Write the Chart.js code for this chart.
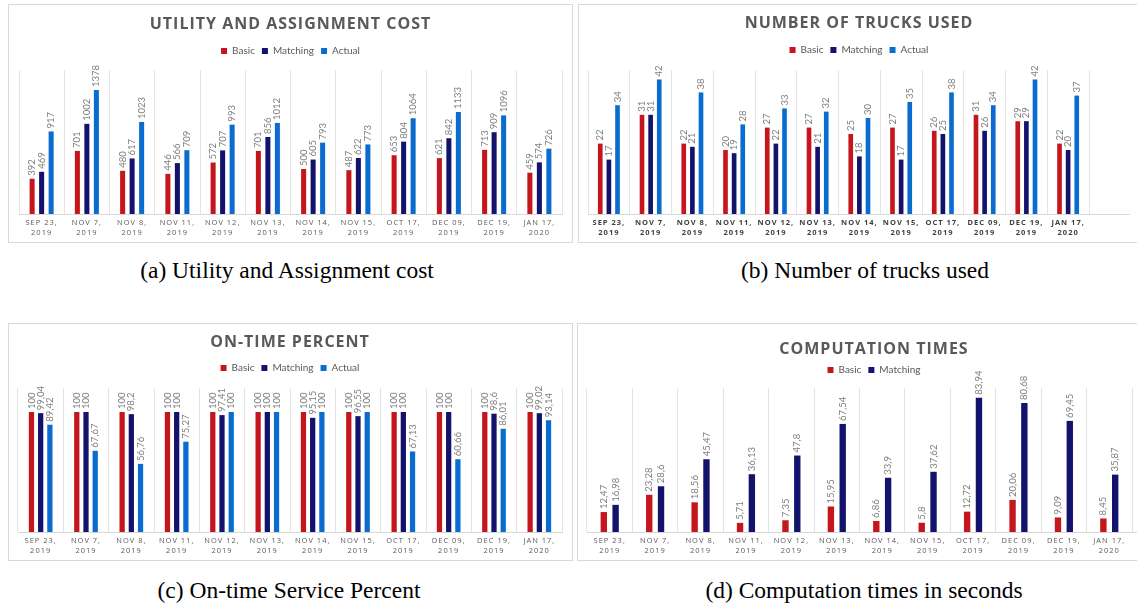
<!DOCTYPE html>
<html>
<head>
<meta charset="utf-8">
<script src="https://cdn.jsdelivr.net/npm/chart.js@4.4.1/dist/chart.umd.min.js"></script>
<style>
  html, body { margin: 0; padding: 0; background: #fff; }
  body { width: 1137px; height: 606px; overflow: hidden; position: relative; }
  .frame { position: absolute; border: 1px solid #d9d9d9; box-sizing: border-box; }
  .box { position: absolute; }
  .caption { position: absolute; width: 500px; text-align: center; font-family: 'Liberation Serif', serif; font-size: 23.5px; line-height: 26px; color: #000; }
</style>
</head>
<body>

<div class="frame" style="left:8px;top:4px;width:565px;height:239px"></div>
<div class="box" style="left:9px;top:5px;width:563px;height:236px"><canvas id="costGraph"></canvas></div>

<div class="frame" style="left:578px;top:4px;width:600px;height:239px"></div>
<div class="box" style="left:579px;top:5px;width:551px;height:236px"><canvas id="trucksGraph"></canvas></div>

<div class="frame" style="left:8px;top:323px;width:565px;height:238px"></div>
<div class="box" style="left:9px;top:324px;width:563px;height:235px"><canvas id="onTimeGraph"></canvas></div>

<div class="frame" style="left:577px;top:323px;width:600px;height:238px"></div>
<div class="box" style="left:578px;top:324px;width:583px;height:235px"><canvas id="compGraph"></canvas></div>

<div class="caption" style="left:37px;top:257px">(a) Utility and Assignment cost</div>
<div class="caption" style="left:615px;top:257px">(b) Number of trucks used</div>
<div class="caption" style="left:39px;top:577px">(c) On-time Service Percent</div>
<div class="caption" style="left:614px;top:577px">(d) Computation times in seconds</div>

<script>
const dates = [
  ['SEP 23,', '2019'], ['NOV 7,', '2019'], ['NOV 8,', '2019'], ['NOV 11,', '2019'],
  ['NOV 12,', '2019'], ['NOV 13,', '2019'], ['NOV 14,', '2019'], ['NOV 15,', '2019'],
  ['OCT 17,', '2019'], ['DEC 09,', '2019'], ['DEC 19,', '2019'], ['JAN 17,', '2020']
];

const costBasic    = [392, 701, 480, 446, 572, 701, 500, 487, 653, 621, 713, 459];
const costMatching = [469, 1002, 617, 566, 707, 856, 605, 622, 804, 842, 909, 574];
const costActual   = [917, 1378, 1023, 709, 993, 1012, 793, 773, 1064, 1133, 1096, 726];

const trucksBasic    = [22, 31, 22, 20, 27, 27, 25, 27, 26, 31, 29, 22];
const trucksMatching = [17, 31, 21, 19, 22, 21, 18, 17, 25, 26, 29, 20];
const trucksActual   = [34, 42, 38, 28, 33, 32, 30, 35, 38, 34, 42, 37];

const onTimeBasic    = [100, 100, 100, 100, 100, 100, 100, 100, 100, 100, 100, 100];
const onTimeMatching = [99.04, 100, 98.2, 100, 97.41, 100, 95.15, 96.55, 100, 100, 98.6, 99.02];
const onTimeActual   = [89.42, 67.67, 56.76, 75.27, 100, 100, 100, 100, 67.13, 60.66, 86.01, 93.14];

const compBasic    = [12.47, 23.28, 18.56, 5.71, 7.35, 15.95, 6.86, 5.8, 12.72, 20.06, 9.09, 8.45];
const compMatching = [16.98, 28.6, 45.47, 36.13, 47.8, 67.54, 33.9, 37.62, 83.94, 80.68, 69.45, 35.87];

const RED = '#C4161C';
const NAVY = '#13136E';
const BLUE = '#0A6CCE';

Chart.defaults.font.family = 'Lato';

// rotated value labels sitting on top of every bar (decimal comma like the excel source)
const valueLabels = {
  id: 'valueLabels',
  afterDatasetsDraw(chart) {
    const ctx = chart.ctx;
    ctx.save();
    ctx.letterSpacing = '0px';
    ctx.font = '9.5px Lato';
    ctx.fillStyle = '#7f7f7f';
    ctx.textAlign = 'left';
    ctx.textBaseline = 'middle';
    chart.data.datasets.forEach((ds, i) => {
      chart.getDatasetMeta(i).data.forEach((bar, j) => {
        ctx.save();
        ctx.translate(bar.x, bar.y - 3);
        ctx.rotate(-Math.PI / 2);
        ctx.fillText(String(ds.data[j]).replace('.', ','), 0, 0);
        ctx.restore();
      });
    });
    ctx.restore();
  }
};

// spaced out title / tick text, legend stays normal and gets a bit more room below
const spacing = {
  id: 'spacing',
  afterInit(chart, args, opts) {
    const lg = chart.legend;
    const fit = lg.fit;
    const draw = lg.draw;
    lg.fit = function () { fit.call(this); this.height += opts.extra; };
    lg.draw = function () {
      this.ctx.letterSpacing = '0px';
      draw.apply(this, arguments);
      this.ctx.letterSpacing = opts.letter;
    };
  },
  beforeDraw(chart, args, opts) {
    chart.ctx.letterSpacing = opts.letter;
  },
  afterDraw(chart, args, opts) {
    // the cropped charts keep their axis line running off to the right
    if (!opts.tail) return;
    const ctx = chart.ctx;
    const y = Math.round(chart.chartArea.bottom) + 0.5;
    ctx.save();
    ctx.strokeStyle = '#d9d9d9';
    ctx.lineWidth = 1;
    ctx.beginPath();
    ctx.moveTo(chart.chartArea.right, y);
    ctx.lineTo(chart.width, y);
    ctx.stroke();
    ctx.restore();
  }
};

function barChart(id, datasets, o) {
  return new Chart(document.getElementById(id), {
    type: 'bar',
    data: { labels: dates, datasets: datasets },
    plugins: [valueLabels, spacing],
    options: {
      responsive: true,
      maintainAspectRatio: false,
      animation: false,
      layout: { padding: { left: o.padLeft, right: o.padRight, top: 0, bottom: 0 } },
      datasets: { bar: { categoryPercentage: o.cat, barPercentage: o.bar } },
      plugins: {
        title: {
          display: true,
          text: o.title,
          color: '#595959',
          font: { family: 'Open Sans', size: 16, weight: 'bold', lineHeight: 1 },
          padding: { top: o.titleTop, bottom: o.titleBottom }
        },
        legend: {
          labels: {
            color: '#595959',
            font: { family: 'Lato', size: 10 },
            boxWidth: 6,
            boxHeight: 6,
            padding: 7
          }
        },
        tooltip: { enabled: false },
        spacing: { letter: '1px', extra: o.extra, tail: o.yWidth > 0 }
      },
      scales: {
        x: {
          grid: { color: '#e3e3e3', drawTicks: false },
          border: { color: '#d9d9d9' },
          ticks: {
            color: o.tickColor,
            font: { family: 'Open Sans', size: 7.5, weight: o.tickWeight, lineHeight: 1.333 },
            padding: 3.5,
            maxRotation: 0,
            autoSkip: false
          }
        },
        y: {
          display: o.yWidth > 0,
          position: 'right',
          min: 0,
          max: o.max,
          ticks: { display: false },
          grid: { display: false },
          border: { display: false },
          afterFit: (scale) => { scale.width = o.yWidth; }
        }
      }
    }
  });
}

barChart('costGraph', [
  { label: 'Basic', data: costBasic, backgroundColor: RED },
  { label: 'Matching', data: costMatching, backgroundColor: NAVY },
  { label: 'Actual', data: costActual, backgroundColor: BLUE }
], { title: 'UTILITY AND ASSIGNMENT COST', max: 1600, padLeft: 10, padRight: 10, yWidth: 0,
     cat: 0.63, bar: 0.53, titleTop: 11, titleBottom: 7, extra: 4,
     tickColor: '#595959', tickWeight: 'normal' });

barChart('trucksGraph', [
  { label: 'Basic', data: trucksBasic, backgroundColor: RED },
  { label: 'Matching', data: trucksMatching, backgroundColor: NAVY },
  { label: 'Actual', data: trucksActual, backgroundColor: BLUE }
], { title: 'NUMBER OF TRUCKS USED', max: 45, padLeft: 9, padRight: 0, yWidth: 41,
     cat: 0.62, bar: 0.54, titleTop: 10.5, titleBottom: 6.5, extra: 5,
     tickColor: '#404040', tickWeight: 'bold' });

barChart('onTimeGraph', [
  { label: 'Basic', data: onTimeBasic, backgroundColor: RED },
  { label: 'Matching', data: onTimeMatching, backgroundColor: NAVY },
  { label: 'Actual', data: onTimeActual, backgroundColor: BLUE }
], { title: 'ON-TIME PERCENT', max: 120, padLeft: 9, padRight: 10, yWidth: 0,
     cat: 0.61, bar: 0.57, titleTop: 10, titleBottom: 6, extra: 5,
     tickColor: '#595959', tickWeight: 'normal' });

barChart('compGraph', [
  { label: 'Basic', data: compBasic, backgroundColor: RED },
  { label: 'Matching', data: compMatching, backgroundColor: NAVY }
], { title: 'COMPUTATION TIMES', max: 90, padLeft: 9, padRight: 0, yWidth: 29,
     cat: 0.52, bar: 0.54, titleTop: 17, titleBottom: 1, extra: 3,
     tickColor: '#595959', tickWeight: 'normal' });
</script>
</body>
</html>
